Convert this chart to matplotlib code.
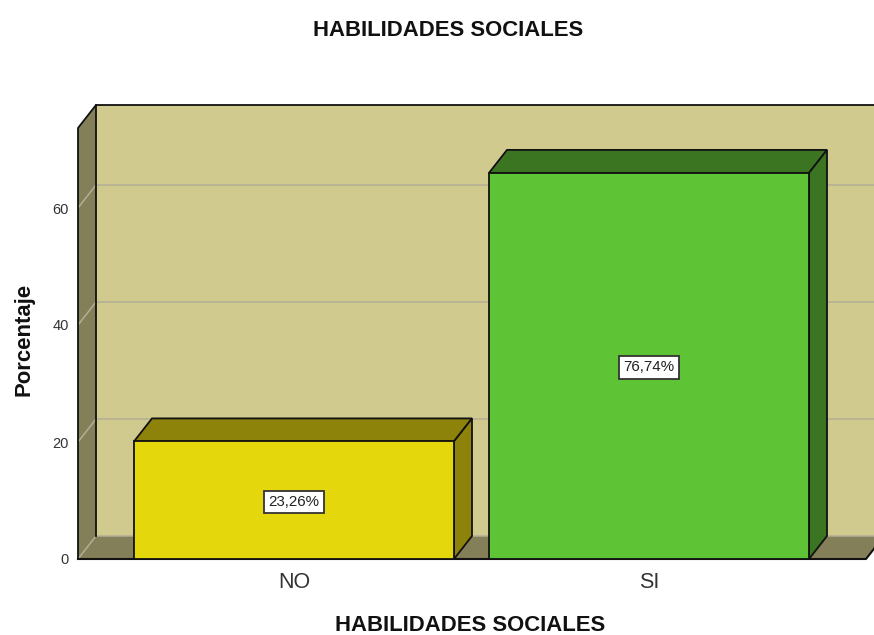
import matplotlib
matplotlib.use('Agg')
import matplotlib.pyplot as plt
from matplotlib.patches import Polygon

plt.rcParams['font.family'] = ['Liberation Sans', 'DejaVu Sans']

categories = ['NO', 'SI']
heights = [20.1, 66.0]
labels = ['23,26%', '76,74%']
y_ticks = [0, 20, 40, 60]

bar_colors = ['#E4D80D', '#5EC435']
dark_colors = ['#8E830A', '#3C7522']
wall_color = '#D0CA8F'
side_color = '#837F58'
grid_color = '#B2AF96'
edge = '#111111'

W, H = 874, 635
fig = plt.figure(figsize=(W / 100, H / 100), dpi=100)
# axes = front plane of the 3d box
ax = fig.add_axes([78 / W, 1 - 559 / H, (866 - 78) / W, (559 - 128) / H])
ax.patch.set_visible(False)
for s in ax.spines.values():
    s.set_visible(False)

x_per_px = 1 / 355
y_per_px = 20 / 117
xmin, xmax = -216 * x_per_px, 572 * x_per_px
ymax = 431 * y_per_px
ax.set_xlim(xmin, xmax)
ax.set_ylim(0, ymax)

# depth of the 3d effect in data units
dx = 18 * x_per_px
dy = 23 * y_per_px
bar_w = 320 * x_per_px


def poly(pts, fc, ec='none', lw=1.0, z=1):
    ax.add_patch(Polygon(pts, closed=True, facecolor=fc, edgecolor=ec, linewidth=lw,
                         zorder=z, clip_on=False, joinstyle='miter'))


# walls
poly([(xmin + dx, dy), (xmax + dx, dy), (xmax + dx, ymax + dy), (xmin + dx, ymax + dy)], wall_color, z=1)
poly([(xmin, 0), (xmin + dx, dy), (xmin + dx, ymax + dy), (xmin, ymax)], side_color, z=1)
poly([(xmin, 0), (xmax, 0), (xmax + dx, dy), (xmin + dx, dy)], side_color, z=1)

# grid on the walls
for t in y_ticks:
    ax.plot([xmin, xmin + dx, xmax + dx], [t, t + dy, t + dy], color=grid_color, lw=1.1, zorder=2,
            clip_on=False)

# wall outlines
ax.plot([xmin, xmin, xmin + dx, xmax + dx], [0, ymax, ymax + dy, ymax + dy], color=edge, lw=1.3, zorder=3,
        clip_on=False)
ax.plot([xmin + dx, xmin + dx], [dy, ymax + dy], color=edge, lw=1.3, zorder=3, clip_on=False)
ax.plot([xmin, xmax, xmax + dx], [0, 0, dy], color=edge, lw=1.5, zorder=3, clip_on=False)

# bars
for i in range(len(categories)):
    h = heights[i]
    l = i - bar_w / 2
    r = i + bar_w / 2
    poly([(l, h), (r, h), (r + dx, h + dy), (l + dx, h + dy)], dark_colors[i], edge, 1.3, 4)
    poly([(r, 0), (r + dx, dy), (r + dx, h + dy), (r, h)], dark_colors[i], edge, 1.3, 4)
    ax.bar(i, h, width=bar_w, color=bar_colors[i], edgecolor=edge, linewidth=1.3, zorder=5, clip_on=False)
    ax.text(i, h / 2 - 1.5 * y_per_px, labels[i], ha='center', va='center', fontsize=10.9, color='#222222', zorder=6,
            bbox=dict(boxstyle='square,pad=0.27', facecolor='white', edgecolor='#333333', linewidth=1.3))

ax.set_xticks(range(len(categories)))
ax.set_xticklabels(categories, fontsize=15.5, color='#333333')
ax.set_yticks(y_ticks)
ax.tick_params(axis='y', length=0, pad=6.5, labelsize=10.5, labelcolor='#333333')
ax.tick_params(axis='x', length=0, pad=9)

fig.text(448 / W, 1 - 31 / H, 'HABILIDADES SOCIALES', ha='center', va='center', fontsize=15.9, fontweight='bold',
         color='#111111')
fig.text(470 / W, 1 - 625.5 / H, 'HABILIDADES SOCIALES', ha='center', va='center', fontsize=15.9, fontweight='bold',
         color='#111111')
fig.text(24 / W, 1 - 339.5 / H, 'Porcentaje', ha='center', va='center', rotation=90, fontsize=15.9,
         fontweight='bold', color='#111111')

fig.savefig('out.png', dpi=100)
